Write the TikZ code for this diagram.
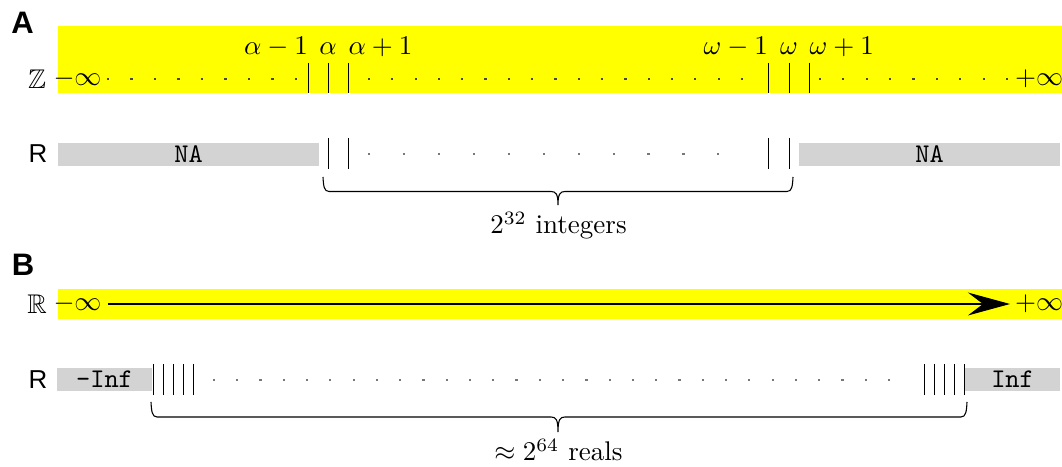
\documentclass[tikz,border=0pt]{standalone}
\usepackage{amssymb}
\usepackage{fontspec}
\newfontfamily\hv{Liberation Sans}
\usetikzlibrary{arrows.meta}
\definecolor{bandyellow}{RGB}{255,255,0}
\definecolor{nagray}{RGB}{211,211,211}
\definecolor{dotdark}{RGB}{70,70,70}
\definecolor{dotgray}{RGB}{120,120,120}
\begin{document}
\begin{tikzpicture}[x=0.3704pt,y=-0.3704pt,
  band/.style={fill=bandyellow,draw=none},
  nabar/.style={fill=nagray,draw=none},
  tick/.style={draw=black,line width=0.33pt},
  panel/.style={font=\hv\bfseries\fontsize{11.5}{13}\selectfont,inner sep=0},
  rlab/.style={font=\hv\fontsize{9.6}{11}\selectfont,inner sep=0},
  mlab/.style={inner sep=0,font=\fontsize{10}{12}\selectfont},
  nalab/.style={inner sep=0,font=\ttfamily\fontsize{10}{12}\selectfont},
  bracestyle/.style={draw=black,line width=0.4pt},
]
\useasboundingbox (0,0) rectangle (1062,467);

% ---------------- Panel A ----------------
\node[panel] (pA) at (22.5,23) {A};
\path[band] (58,26) rectangle (1062,93);
\node[mlab] (Z) at (37,79) {$\mathbb{Z}$};
\node[mlab] (zmi) at (77.5,79) {$-\infty$};
\node[mlab,anchor=west] (zpi) at (1014.5,79) {$+\infty$};

\foreach \i in {0,...,8}
  \fill[dotdark] ({108+23.5*\i-1.1},78.3) rectangle ++(2.2,1.4);
\foreach \i in {0,...,16}
  \fill[dotdark] ({369+23.3125*\i-1.1},78.3) rectangle ++(2.2,1.4);
\foreach \i in {0,...,8}
  \fill[dotdark] ({820+23.375*\i-1.1},78.3) rectangle ++(2.2,1.4);

\foreach \x in {308,328,348,768,789,809}
  \draw[tick] (\x,63) -- (\x,93);

\node[mlab,anchor=base east] (am) at (308.5,55) {$\alpha-1$};
\node[mlab,anchor=base] (a0) at (328,55) {$\alpha$};
\node[mlab,anchor=base west] (ap) at (348,55) {$\alpha+1$};
\node[mlab,anchor=base east] (wm) at (768.5,55) {$\omega-1$};
\node[mlab,anchor=base] (w0) at (789,55) {$\omega$};
\node[mlab,anchor=base west] (wp) at (809,55) {$\omega+1$};

% R row (integers)
\node[rlab] (RA) at (38,153.5) {R};
\path[nabar] (58,143) rectangle (319,166);
\path[nabar] (799,143) rectangle (1060,166);
\node[nalab] (naL) at (188.5,154.5) {NA};
\node[nalab] (naR) at (929.5,154.5) {NA};
\foreach \x in {328,348,768,789}
  \draw[tick] (\x,138) -- (\x,169);
\foreach \i in {0,...,10}
  \fill[dotgray] ({369.3+34.9*\i-1.1},153.3) rectangle ++(2.2,1.4);

\coordinate (bAl) at (323,177);
\coordinate (bAr) at (793,177);
\coordinate (bAt) at (558,205);
\draw[bracestyle] (bAl) .. controls (323.5,186) and (324,191.5) .. (329,191.5)
  -- (551,191.5) .. controls (556,191.5) and (558,194) .. (bAt)
  .. controls (558,194) and (560,191.5) .. (565,191.5)
  -- (787,191.5) .. controls (792,191.5) and (792.5,186) .. (bAr);
\node[mlab,anchor=base] (intlab) at (558.5,234) {$2^{32}$ integers};

% ---------------- Panel B ----------------
\node[panel] (pB) at (23,264.5) {B};
\path[band] (58,289) rectangle (1062,319);
\node[mlab] (Rr) at (37,304) {$\mathbb{R}$};
\node[mlab] (rmi) at (77.5,304) {$-\infty$};
\node[mlab,anchor=west] (rpi) at (1014.5,304) {$+\infty$};
\coordinate (rs) at (108,304);
\coordinate (re) at (1010,304);
\draw[line width=0.45pt,-{Stealth[length=15.6pt,width=8.5pt,inset=5.6pt]}] (rs) -- (re);

% R row (reals)
\node[rlab] (RB) at (38,380) {R};
\path[nabar] (57,368) rectangle (152,391);
\path[nabar] (965,368) rectangle (1060,391);
\node[nalab] (ninf) at (104.5,379.5) {-Inf};
\node[nalab] (pinf) at (1012.5,379.5) {Inf};
\foreach \x in {153,163,173,183,193,924,934,944,954,964}
  \draw[tick] (\x,364) -- (\x,395);
\foreach \i in {0,...,29}
  \fill[dotgray] ({214+23.276*\i-1.1},379.3) rectangle ++(2.2,1.4);

\coordinate (bBl) at (151,402);
\coordinate (bBr) at (967,402);
\coordinate (bBt) at (558,432);
\draw[bracestyle] (bBl) .. controls (151.5,411) and (152,417) .. (157,417)
  -- (551,417) .. controls (556,417) and (558,419.5) .. (bBt)
  .. controls (558,419.5) and (560,417) .. (565,417)
  -- (961,417) .. controls (966,417) and (966.5,411) .. (bBr);
\node[mlab,anchor=base] (reallab) at (558.5,461) {$\approx 2^{64}$ reals};
\end{tikzpicture}
\end{document}
